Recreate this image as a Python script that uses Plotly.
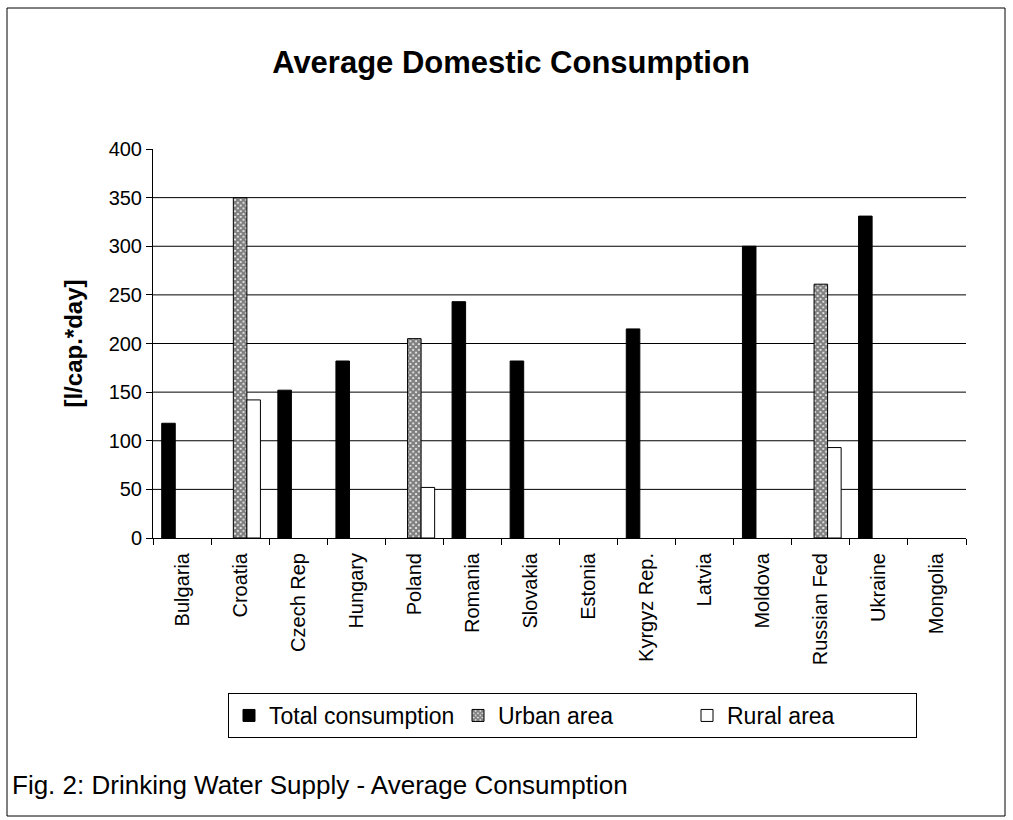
import plotly.graph_objects as go

countries = ["Bulgaria", "Croatia", "Czech Rep", "Hungary", "Poland", "Romania",
             "Slovakia", "Estonia", "Kyrgyz Rep.", "Latvia", "Moldova",
             "Russian Fed", "Ukraine", "Mongolia"]
total = [118, None, 152, 182, None, 243, 182, None, 215, None, 300, None, 331, None]
urban = [None, 350, None, None, 205, None, None, None, None, None, None, 261, None, None]
rural = [None, 142, None, None, 52, None, None, None, None, None, None, 93, None, None]
y_ticks = [0, 50, 100, 150, 200, 250, 300, 350, 400]
grid_values = [50, 100, 150, 200, 250, 300, 350]

FONT = "Liberation Sans, Arial, Helvetica, sans-serif"
W, H = 1013, 820
L, R, T, B = 153, 966, 149, 538  # plot area in px


def px_x(px):
    return (px - L) / (R - L)


def px_y(py):
    return (B - py) / (B - T)


fig = go.Figure()
fig.add_trace(go.Bar(
    name="Total consumption", x=countries, y=total,
    marker=dict(color="black", line=dict(color="black", width=1)),
))
fig.add_trace(go.Bar(
    name="Urban area", x=countries, y=urban,
    marker=dict(color="white", line=dict(color="black", width=1),
                pattern=dict(shape="x", fgcolor="black", bgcolor="white",
                             size=4, solidity=0.8)),
))
fig.add_trace(go.Bar(
    name="Rural area", x=countries, y=rural,
    marker=dict(color="white", line=dict(color="black", width=1)),
))

shapes = []
for g in grid_values:
    shapes.append(dict(type="line", xref="paper", yref="y", x0=0, x1=1, y0=g, y1=g,
                       line=dict(color="black", width=1), layer="below"))
# outer frame
shapes.append(dict(type="rect", xref="paper", yref="paper",
                   x0=px_x(7), x1=px_x(1005), y0=px_y(8), y1=px_y(816),
                   line=dict(color="black", width=1)))

fig.update_layout(
    width=W, height=H,
    margin=dict(l=L, r=W - R, t=T, b=H - B, autoexpand=False),
    paper_bgcolor="white", plot_bgcolor="white",
    font=dict(family=FONT, color="black"),
    barmode="group", bargap=0.3, bargroupgap=0,
    title=dict(text="<b>Average Domestic Consumption</b>",
               font=dict(family=FONT, size=31, color="black"),
               x=511 / W, xanchor="center", xref="container",
               y=1 - 62 / H, yanchor="middle", yref="container"),
    xaxis=dict(type="category", showline=True, linecolor="black", linewidth=1,
               ticks="outside", ticklen=6, tickcolor="black", tickson="boundaries",
               tickangle=-90, tickfont=dict(size=20, family=FONT),
               showgrid=False, ticklabelstandoff=6),
    yaxis=dict(range=[0, 400], tickvals=y_ticks, showline=True, linecolor="black",
               linewidth=1, ticks="outside", ticklen=6, tickcolor="black",
               tickfont=dict(size=20, family=FONT), showgrid=False, zeroline=False,
               title=dict(text="<b>[l/cap.*day]</b>", font=dict(size=24, family=FONT),
                          standoff=19)),
    legend=dict(orientation="h", x=px_x(228), xanchor="left", y=px_y(693), yanchor="top",
                bordercolor="black", borderwidth=1, bgcolor="white",
                font=dict(size=23, family=FONT), entrywidth=184, entrywidthmode="pixels",
                traceorder="normal"),
    shapes=shapes,
    annotations=[dict(text="Fig. 2: Drinking Water Supply - Average Consumption",
                      xref="paper", yref="paper", x=px_x(10), y=px_y(785),
                      xanchor="left", yanchor="middle", showarrow=False,
                      font=dict(size=26, family=FONT, color="black"))],
)

fig.write_html("out.html")
